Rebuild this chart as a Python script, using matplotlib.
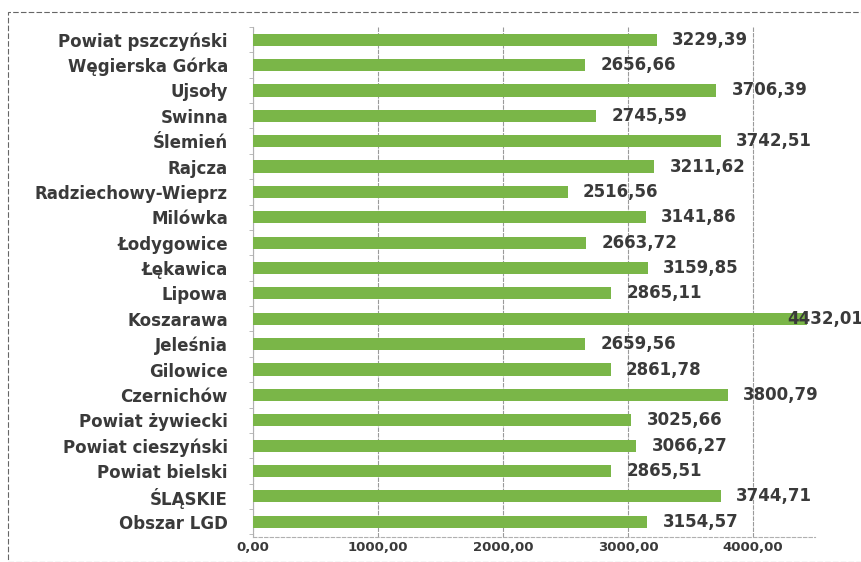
import matplotlib.pyplot as plt
from matplotlib.patches import Rectangle

# wartości od dołu do góry (kolejność jak na wykresie)
regions = ['Obszar LGD', 'ŚLĄSKIE', 'Powiat bielski', 'Powiat cieszyński',
           'Powiat żywiecki', 'Czernichów', 'Gilowice', 'Jeleśnia', 'Koszarawa',
           'Lipowa', 'Łękawica', 'Łodygowice', 'Milówka', 'Radziechowy-Wieprz',
           'Rajcza', 'Ślemień', 'Swinna', 'Ujsoły', 'Węgierska Górka',
           'Powiat pszczyński']
values = [3154.57, 3744.71, 2865.51, 3066.27, 3025.66, 3800.79, 2861.78,
          2659.56, 4432.01, 2865.11, 3159.85, 2663.72, 3141.86, 2516.56,
          3211.62, 3742.51, 2745.59, 3706.39, 2656.66, 3229.39]
xticks = [0, 1000, 2000, 3000, 4000]

bar_color = '#7ab648'
text_color = '#3a3a3a'

def pl(v):
    return f'{v:.2f}'.replace('.', ',')

fig = plt.figure(figsize=(8.62, 5.62), dpi=100)
ax = fig.add_axes([0.2935, 0.0445, 0.6525, 0.9075])

pos = range(len(regions))
ax.barh(pos, values, height=0.48, color=bar_color, zorder=3)

ax.set_xlim(0, 4500)
ax.set_ylim(-0.6, 19.47)
ax.set_xticks(xticks)
ax.set_xticklabels([pl(t) for t in xticks], fontsize=9.5, fontweight='bold',
                   color=text_color, family='DejaVu Sans')
ax.set_yticks(list(pos))
ax.set_yticklabels(regions, fontsize=12, fontweight='bold',
                   color=text_color, family='DejaVu Sans')
ax.set_yticks([p + 0.5 for p in range(-1, len(regions))], minor=True)
ax.tick_params(axis='y', which='major', length=0, pad=18)
ax.tick_params(axis='y', which='minor', length=3, color='#b0b0b0')
ax.tick_params(axis='x', length=0, pad=3)

ax.grid(axis='x', color='#9a9a9a', linewidth=0.8, linestyle=(0, (4, 1)), zorder=1)
for side in ['top', 'right']:
    ax.spines[side].set_visible(False)
ax.spines['left'].set_color('#b0b0b0')
ax.spines['bottom'].set_color('#b0b0b0')
ax.spines['bottom'].set_linestyle((0, (3, 2)))

for p, v in zip(pos, values):
    dx = 11 if v < 4200 else -14
    ax.annotate(pl(v), (v, p), xytext=(dx, 0), textcoords='offset points',
                va='center', ha='left', fontsize=12, fontweight='bold',
                color=text_color, family='DejaVu Sans', zorder=4,
                annotation_clip=False)

# zewnętrzna ramka skanu
fig.patches.append(Rectangle((0.009, 0.0), 0.991, 0.978, transform=fig.transFigure,
                             fill=False, edgecolor='#666666', linewidth=0.8,
                             linestyle=(0, (5, 2))))

fig.savefig('out.png', dpi=100)
